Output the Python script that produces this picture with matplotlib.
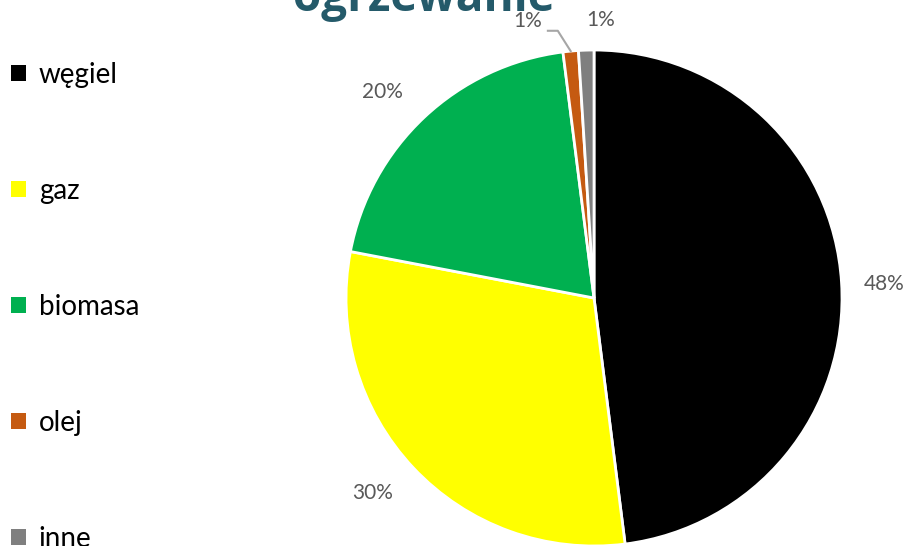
import numpy as np
import matplotlib.pyplot as plt
from matplotlib.patches import Patch

categories = ['węgiel', 'gaz', 'biomasa', 'olej', 'inne']
shares = [48, 30, 20, 1, 1]
pct_labels = ['48%', '30%', '20%', '1%', '1%']
colors = ['#000000', '#FFFF00', '#00B050', '#C55A11', '#7F7F7F']

plt.rcParams['font.family'] = ['Lato', 'DejaVu Sans']

fig = plt.figure(figsize=(9.06, 5.46), dpi=100)
ax = fig.add_axes([0.3819, 0.0, 0.5475, 0.9084])

wedges, _ = ax.pie(shares, colors=colors, startangle=90, counterclock=False,
                   radius=1.0, wedgeprops=dict(edgecolor='white', linewidth=2))
ax.set_xlim(-1, 1)
ax.set_ylim(-1, 1)
ax.set_aspect('equal')
ax.axis('off')

# label distance (radii) and angle nudge (deg), tuned by eye
dists = [1.17, 1.19, 1.19, 1.12, 1.12]
nudge = [-0.8, -1.8, 2.5, 0, 0]
for i, w in enumerate(wedges):
    mid = np.deg2rad((w.theta1 + w.theta2) / 2 + nudge[i])
    if i == 3:
        # olej: label pushed left, with a leader line to the slice
        tip = np.array([np.cos(mid), np.sin(mid)])
        elbow = tip + [-0.052, 0.082]
        end = elbow + [-0.04, 0]
        ax.plot([tip[0], elbow[0], end[0]], [tip[1], elbow[1], end[1]],
                color='#A6A6A6', lw=1.5, clip_on=False)
        ax.text(end[0] - 0.025, end[1] + 0.04, pct_labels[i], ha='right',
                va='center', fontsize=15, color='#595959', clip_on=False)
        continue
    x = dists[i] * np.cos(mid)
    y = dists[i] * np.sin(mid)
    if i == 4:
        x += 0.06
    ax.text(x, y, pct_labels[i], ha='center', va='center', fontsize=15,
            color='#595959', clip_on=False)

fig.text(0.468, 0.979, 'ogrzewanie', ha='center', va='baseline', fontsize=33,
         fontweight='bold', color='#245A6A', family=['Open Sans', 'DejaVu Sans'])

handles = [Patch(facecolor=c, edgecolor='none') for c in colors]
fig.legend(handles, categories, loc='upper left', bbox_to_anchor=(0.012, 0.887),
           frameon=False, fontsize=20, handlelength=0.55, handleheight=0.55,
           handletextpad=0.45, labelspacing=3.24, borderaxespad=0,
           borderpad=0)

fig.savefig('out.png', dpi=100)
